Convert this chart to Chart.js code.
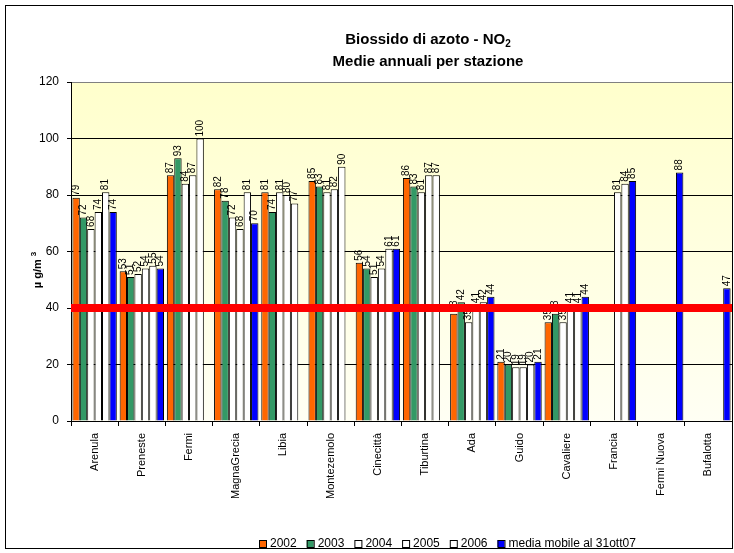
<!DOCTYPE html>
<html lang="it">
<head>
  <meta charset="UTF-8">
  <title>Biossido di azoto - NO2</title>
  <style>
    body { margin: 0; background: #ffffff; }
    #chartContainer { position: relative; width: 734px; height: 553px; }
  </style>
  <script src="https://cdn.jsdelivr.net/npm/chart.js"></script>
</head>
<body>
  <div id="chartContainer">
    <canvas id="chartCanvas" width="734" height="553"></canvas>
  </div>

  <script>
    // stations (categories)
    const stations = ['Arenula', 'Preneste', 'Fermi', 'MagnaGrecia', 'Libia', 'Montezemolo', 'Cinecittà',
      'Tiburtina', 'Ada', 'Guido', 'Cavaliere', 'Francia', 'Fermi Nuova', 'Bufalotta'];

    // annual means per station, µg/m3 (null = no bar)
    const y2002 = [79, 53, 87, 82, 81, 85, 56, 86, 38, 21, 35, null, null, null];
    const y2003 = [72, 51, 93, 78, 74, 83, 54, 83, 42, 20, 38, null, null, null];
    const y2004 = [68, 52, 84, 72, 81, 81, 51, 81, 35, 19, 35, null, null, null];
    const y2005 = [74, 54, 87, 68, 80, 82, 54, 87, 41, 19, 41, 81, null, null];
    const y2006 = [81, 55, 100, 81, 77, 90, 61, 87, 42, 20, 41, 84, null, null];
    const mediaMobile = [74, 54, null, 70, null, null, 61, null, 44, 21, 44, 85, 88, 47];

    const seriesLabels = ['2002', '2003', '2004', '2005', '2006', 'media mobile al 31ott07'];
    const seriesColors = ['#FF6600', '#339966', '#FFFFFF', '#FFFFFF', '#FFFFFF', '#0000FF'];

    // y axis ticks and limit value
    const yTicks = [0, 20, 40, 60, 80, 100, 120];
    const limitValue = 40;

    const FONT = 'Arial, "Liberation Sans", sans-serif';

    // plot background, outer frame
    const backgroundPlugin = {
      id: 'background',
      beforeDraw(chart) {
        const { ctx, chartArea: a } = chart;
        ctx.save();
        ctx.fillStyle = '#ffffff';
        ctx.fillRect(0, 0, chart.width, chart.height);
        const g = ctx.createLinearGradient(0, a.top, 0, a.bottom);
        g.addColorStop(0, '#FFFFCC');
        g.addColorStop(1, '#FFFFF4');
        ctx.fillStyle = g;
        ctx.fillRect(a.left, a.top, a.right - a.left, a.bottom - a.top);
        ctx.restore();
      },
      afterDraw(chart) {
        const ctx = chart.ctx;
        ctx.save();
        ctx.strokeStyle = '#000';
        ctx.lineWidth = 1;
        ctx.strokeRect(5.5, 5.5, 727, 543);
        ctx.restore();
      }
    };

    // red limit line + value labels on bars
    const overlayPlugin = {
      id: 'overlay',
      afterDatasetsDraw(chart) {
        const { ctx, chartArea: a } = chart;
        const y = chart.scales.y.getPixelForValue(limitValue);
        ctx.save();
        // value labels, rotated
        ctx.fillStyle = '#000';
        ctx.font = '10px ' + FONT;
        ctx.textAlign = 'left';
        ctx.textBaseline = 'middle';
        chart.data.datasets.forEach((ds, i) => {
          const meta = chart.getDatasetMeta(i);
          meta.data.forEach((bar, j) => {
            const v = ds.data[j];
            if (v === null) return;
            ctx.save();
            ctx.translate(bar.x, bar.y - 2);
            ctx.rotate(-Math.PI / 2);
            ctx.fillText(String(v), 0, 0);
            ctx.restore();
          });
        });
        // limit line
        ctx.strokeStyle = '#FF0000';
        ctx.lineWidth = 8;
        ctx.beginPath();
        ctx.moveTo(a.left, y);
        ctx.lineTo(a.right, y);
        ctx.stroke();
        ctx.restore();
      }
    };

    // titles and legend
    const textPlugin = {
      id: 'texts',
      afterDraw(chart) {
        const ctx = chart.ctx;
        ctx.save();
        ctx.fillStyle = '#000';
        ctx.textBaseline = 'middle';

        // title line 1 with subscript
        ctx.font = 'bold 15px ' + FONT;
        const t1 = 'Biossido di azoto - NO';
        const w1 = ctx.measureText(t1).width;
        ctx.font = 'bold 10px ' + FONT;
        const ws = ctx.measureText('2').width;
        const cx = 428;
        let x0 = cx - (w1 + ws) / 2;
        ctx.font = 'bold 15px ' + FONT;
        ctx.textAlign = 'left';
        ctx.fillText(t1, x0, 40);
        ctx.font = 'bold 10px ' + FONT;
        ctx.fillText('2', x0 + w1, 44);
        ctx.font = 'bold 15px ' + FONT;
        ctx.textAlign = 'center';
        ctx.fillText('Medie annuali per stazione', cx, 62);

        // y axis title
        ctx.save();
        ctx.translate(38, 270);
        ctx.rotate(-Math.PI / 2);
        ctx.font = 'bold 11px ' + FONT;
        const ty = 'µ g/m ';
        const wy = ctx.measureText(ty).width;
        ctx.font = 'bold 8px ' + FONT;
        const w3 = ctx.measureText('3').width;
        ctx.textAlign = 'left';
        ctx.font = 'bold 11px ' + FONT;
        ctx.fillText(ty, -(wy + w3) / 2, 0);
        ctx.font = 'bold 8px ' + FONT;
        ctx.fillText('3', -(wy + w3) / 2 + wy, -4);
        ctx.restore();

        // legend
        ctx.font = '12px ' + FONT;
        ctx.textAlign = 'left';
        let lx = 259;
        const ly = 544;
        seriesLabels.forEach((lab, i) => {
          ctx.fillStyle = seriesColors[i];
          ctx.fillRect(lx, ly - 4, 7, 7);
          ctx.strokeStyle = '#000';
          ctx.lineWidth = 1;
          ctx.strokeRect(lx + 0.5, ly - 3.5, 7, 7);
          ctx.fillStyle = '#000';
          ctx.fillText(lab, lx + 11, ly);
          lx += 11 + ctx.measureText(lab).width + 10;
        });
        ctx.restore();
      }
    };

    const datasets = [y2002, y2003, y2004, y2005, y2006, mediaMobile].map((d, i) => ({
      label: seriesLabels[i],
      data: d,
      backgroundColor: seriesColors[i],
      borderColor: '#000',
      borderWidth: 1,
      borderSkipped: 'bottom',
      categoryPercentage: 0.94,
      barPercentage: 1.0
    }));

    new Chart(document.getElementById('chartCanvas').getContext('2d'), {
      type: 'bar',
      data: { labels: stations, datasets: datasets },
      plugins: [backgroundPlugin, overlayPlugin, textPlugin],
      options: {
        responsive: false,
        animation: false,
        maintainAspectRatio: false,
        layout: { padding: { left: 0, right: 2, top: 82, bottom: 0 } },
        plugins: {
          legend: { display: false },
          title: { display: false },
          tooltip: { enabled: false }
        },
        scales: {
          y: {
            min: 0,
            max: 120,
            afterFit(scale) { scale.width = 71; },
            afterBuildTicks(scale) { scale.ticks = yTicks.map(v => ({ value: v })); },
            ticks: { color: '#000', font: { family: FONT, size: 12 }, padding: 8 },
            grid: {
              color: ctx => (ctx.tick && ctx.tick.value === 120) ? '#808080' : '#000',
              lineWidth: 1,
              tickLength: 4,
              tickColor: '#000'
            },
            border: { color: '#000', width: 1 }
          },
          x: {
            afterFit(scale) { scale.height = 132; },
            ticks: {
              color: '#000',
              font: { family: FONT, size: 11 },
              minRotation: 90,
              maxRotation: 90,
              autoSkip: false,
              padding: 7
            },
            grid: {
              drawOnChartArea: false,
              drawTicks: true,
              tickLength: 5,
              tickColor: '#000',
              offset: true
            },
            border: { color: '#000', width: 1 }
          }
        }
      }
    });
  </script>
</body>
</html>
